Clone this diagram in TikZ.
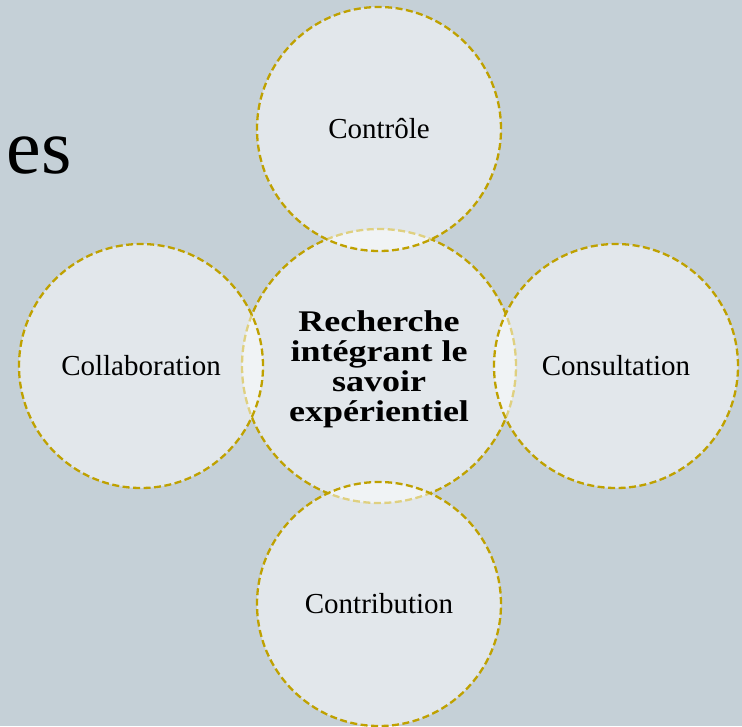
\documentclass[tikz,border=0pt]{standalone}
\usepackage{fontspec}
\setmainfont{Liberation Serif}
\newfontfamily\grasfont[FakeStretch=1.2]{Liberation Serif}
\definecolor{fond}{HTML}{C5D0D7}
\definecolor{orfonce}{HTML}{BFA100}
\tikzset{
  cercle/.style={circle,minimum size=244pt,inner sep=0pt,draw=orfonce,line width=2.3pt,
    dash pattern=on 7pt off 3.5pt,fill=white,fill opacity=0.5,text opacity=1,
    font=\fontsize{29}{32}\selectfont},
  centre/.style={cercle,minimum size=274pt,align=center,
    font=\grasfont\bfseries\fontsize{30}{30}\selectfont}
}
\begin{document}
\begin{tikzpicture}[x=1pt,y=-1pt]
    \fill[fond] (0,0) rectangle (742,726);
    \useasboundingbox (0,0) rectangle (742,726);
    \node[anchor=base east,inner sep=0pt,font=\fontsize{78}{80}\selectfont] (titre) at (72,173) {es};
    \node[centre] (recherche) at (379,366) {\rule{0pt}{27pt}Recherche\\intégrant le\\savoir\\expérientiel};
    \node[cercle] (controle) at (379,129) {Contrôle};
    \node[cercle] (collaboration) at (141,366) {Collaboration};
    \node[cercle] (consultation) at (616,366) {Consultation};
    \node[cercle] (contribution) at (379,604) {Contribution};
\end{tikzpicture}
\end{document}
